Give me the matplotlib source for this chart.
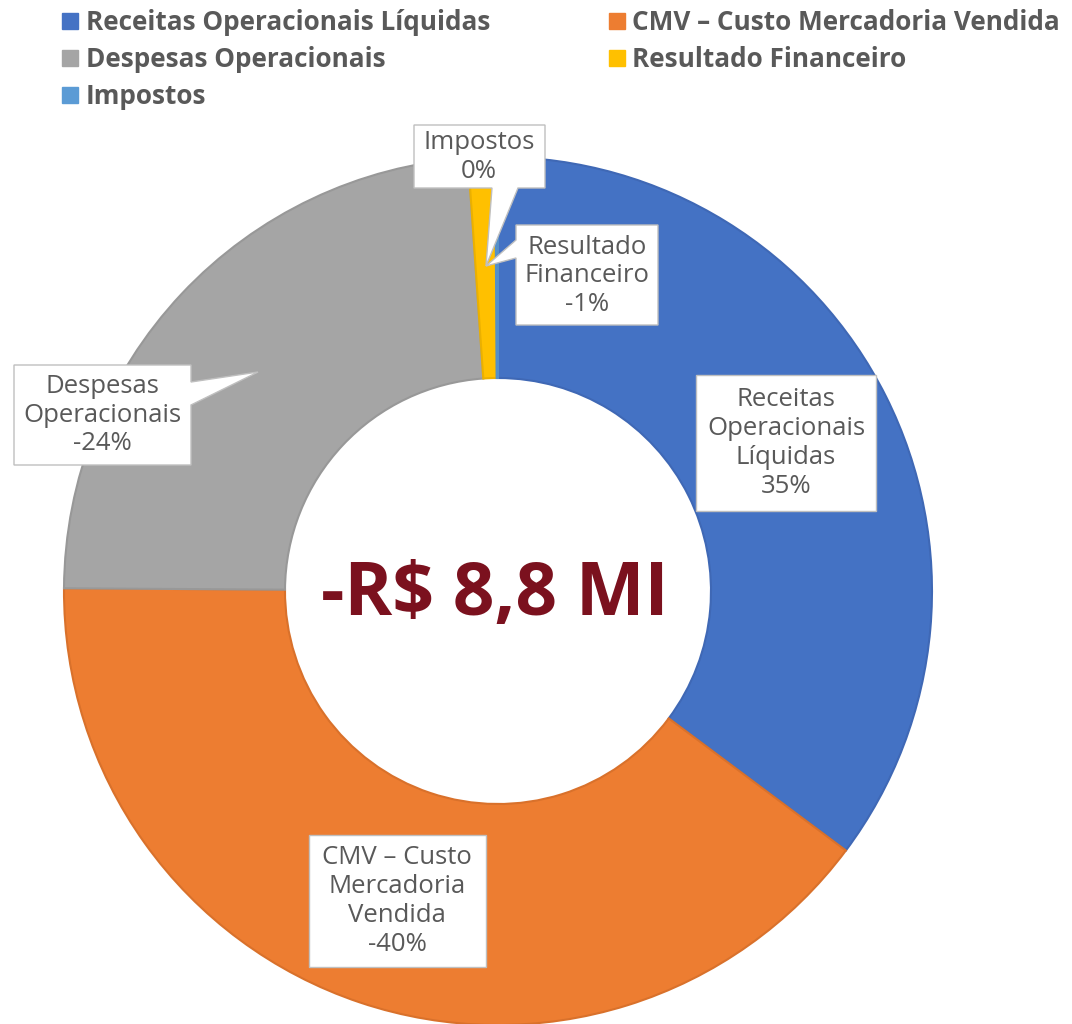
import matplotlib
matplotlib.use("Agg")
import matplotlib.pyplot as plt
from matplotlib.patches import Polygon, Patch

# ---------------- data ----------------
categories = ["Receitas Operacionais Líquidas", "CMV – Custo Mercadoria Vendida",
              "Despesas Operacionais", "Resultado Financeiro", "Impostos"]
label_names = ["Receitas\nOperacionais\nLíquidas", "CMV – Custo\nMercadoria\nVendida",
               "Despesas\nOperacionais", "Resultado\nFinanceiro", "Impostos"]
shares = [35.2, 39.9, 23.8, 1.0, 0.1]          # share of total (absolute, %)
signed_pct = [35, -40, -24, -1, 0]             # displayed label percentages
colors = ["#4472C4", "#ED7D31", "#A5A5A5", "#FFC000", "#5B9BD5"]
edge_colors = ["#3F68B5", "#D9712B", "#989898", "#EBB000", "#5590C8"]
center_label = "-R$ 8,8 MI"

W, H = 1072, 1024
fig = plt.figure(figsize=(W / 100, H / 100), dpi=100)
ax = fig.add_axes([0, 0, 1, 1])

def Y(y):
    return H - y

cx, cy, R, r_in = 498, 591, 434, 213
wedges, _ = ax.pie(shares, colors=colors, startangle=90, counterclock=False,
                   center=(cx, Y(cy)), radius=R,
                   wedgeprops=dict(width=R - r_in, linewidth=1.5))
for w, ec in zip(wedges, edge_colors):
    w.set_edgecolor(ec)

ax.set_xlim(0, W)
ax.set_ylim(0, H)
ax.set_aspect("equal")
ax.axis("off")

# ---------------- callout boxes ----------------
txt_color = "#595959"
box_ec = "#BFBFBF"

def callout(verts, text, tx, ty):
    poly = Polygon([(x, Y(y)) for x, y in verts], closed=True, fc="white",
                   ec=box_ec, lw=1.0, zorder=4)
    ax.add_patch(poly)
    ax.text(tx, Y(ty), text, ha="center", va="center", fontsize=18.5,
            color=txt_color, linespacing=1.2, family="Open Sans", zorder=5)

def fmt(i):
    return f"{label_names[i]}\n{signed_pct[i]}%"

# Receitas
callout([(696, 375), (876, 375), (876, 511), (696, 511)], fmt(0), 786, 443)
# CMV
callout([(309, 835), (486, 835), (486, 967), (309, 967)], fmt(1), 397, 901)
# Despesas (tail to the right)
callout([(14, 365), (191, 365), (191, 382), (258, 372), (191, 405),
         (191, 465), (14, 465)], fmt(2), 102, 415)
# Impostos (tail downward)
callout([(414, 125), (545, 125), (545, 188), (518, 188), (486, 266),
         (492, 188), (414, 188)], fmt(4), 479, 157)
# Resultado Financeiro (tail to the left)
callout([(516, 225), (658, 225), (658, 325), (516, 325), (516, 258),
         (486, 266), (516, 240)], fmt(3), 587, 276)

# ---------------- center text ----------------
ax.text(cx - 3, Y(596), center_label, ha="center", va="center", fontsize=52.5,
        fontweight="bold", color="#7B111E", family="Open Sans", zorder=6)

# ---------------- legend (row-major order) ----------------
handles = [Patch(facecolor=c, edgecolor=c) for c in colors]
order = [0, 2, 4, 1, 3]
leg = fig.legend([handles[i] for i in order], [categories[i] for i in order],
                 ncol=2, loc="upper left",
                 bbox_to_anchor=(57 / W, 1 - 4 / H), frameon=False,
                 prop=dict(family="Open Sans", weight="bold", size=18.8),
                 labelcolor=txt_color, handlelength=0.6, handleheight=0.6,
                 handletextpad=0.3, columnspacing=4.55, labelspacing=0.38,
                 borderaxespad=0, borderpad=0.2)

fig.savefig("out.png", dpi=100, facecolor="white")
